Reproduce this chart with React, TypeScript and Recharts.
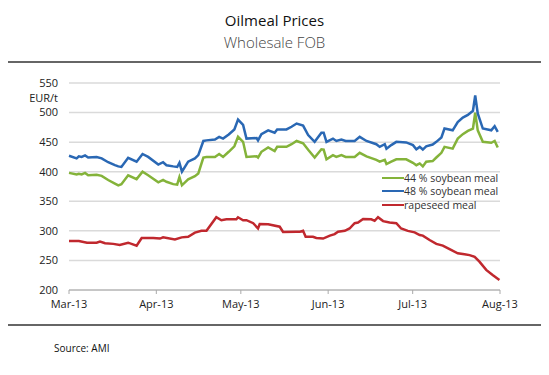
import { LineChart, Line, XAxis, YAxis, CartesianGrid } from 'recharts'

// days counted from 1 March 2013
const monthTicks = [0, 31, 61, 92, 122, 153]
const monthLabels = ['Mar-13', 'Apr-13', 'May-13', 'Jun-13', 'Jul-13', 'Aug-13']
const priceTicks = [200, 250, 300, 350, 400, 450, 500, 550]

const soyDays = [
  0, 2.7, 3.5, 4.5, 5.7, 6.8, 9.8, 11.6, 13.9, 16.3,
  17.5, 18.6, 21, 24, 26.1, 28.1, 31.7, 33.4, 34.6, 37,
  38.4, 39.2, 40.1, 42.3, 44.7, 45.9, 47.7, 48.8, 51.8, 53.3,
  54.7, 56.7, 58.7, 60, 61.8, 63, 66.6, 67.1, 68.3, 70.7,
  73, 73.9, 77.2, 79, 80.8, 83.1, 84.9, 87.2, 89.6, 90.4,
  91.4, 93.7, 94.9, 96.7, 98.2, 101.4, 103.2, 105.6, 109.1, 110.3,
  112.1, 112.7, 114.4, 116.2, 119.7, 122.1, 123.3, 124.5, 125.6, 126.8,
  129.1, 130.4, 132.2, 133.3, 136.2, 138, 139.8, 141.6, 143.4, 144.2,
  145.1, 146.9, 149.9, 151.1, 152.2,
]
const soy48 = [
  427, 422.5, 426, 425, 427.6, 424, 425, 422.5, 416, 411,
  409, 408, 423.6, 417, 430, 425, 412, 416, 411, 409,
  408, 415, 400, 417, 422.5, 428, 452, 453, 454.5, 459,
  456, 463, 471.5, 488, 479, 456, 457, 453, 463.5, 470,
  466, 471.5, 471.5, 476, 481.5, 478, 462, 450.5, 466, 466,
  450.5, 456, 452, 454.5, 452, 452, 459, 452, 446.5, 442,
  446.5, 439, 445, 450.5, 449.5, 445, 438, 442, 437.5, 443,
  446, 450.5, 458, 473, 470, 484, 491.5, 496, 503, 529,
  498.5, 473, 470, 477, 467.5,
]
const soy44 = [
  398, 395.5, 396.5, 395.5, 398, 394, 395, 393, 386, 380,
  377, 379, 394, 387.5, 400, 394, 382, 386, 383, 379,
  378, 391, 377, 387, 392.5, 397, 424, 425, 425, 430,
  425, 433.7, 443, 459, 450.5, 425, 426, 424, 433.7, 441,
  435, 442, 442, 446.5, 452, 448, 437, 424, 438, 437.5,
  421, 428, 425, 428, 425, 425, 432, 426, 420, 417,
  420, 413, 417, 421, 421, 415, 411, 414, 409, 417,
  418, 424, 432, 442, 439, 456, 463.5, 469, 473, 500,
  470, 450.5, 449, 452, 441,
]

const rapeDays = [
  0, 3.5, 6.4, 9.8, 11, 12.8, 15.7, 18, 21, 24,
  25.8, 29.9, 32.3, 33.4, 37.6, 40, 42.3, 44.7, 47, 48.8,
  52.3, 54.1, 55.9, 59.4, 60, 61.8, 63, 65.4, 67.1, 67.7,
  70.7, 74.8, 76, 80.7, 82, 83.1, 84, 86.6, 87.8, 90.2,
  92.6, 94.3, 95.5, 97.9, 99.6, 101.4, 102.6, 104.4, 107.3, 108.5,
  109.7, 111.5, 113.8, 116.2, 117.9, 120.3, 122.7, 124.5, 125.6, 128,
  130.4, 132.7, 135.1, 138, 140.4, 142.2, 144, 145.7, 148.1, 150.5, 152.8,
]
const rapeseed = [
  283, 283, 280, 280, 282, 279, 278, 276, 280, 275,
  288, 288, 287, 289, 285.5, 289, 290, 297, 300, 300,
  323, 318, 319.5, 319.5, 323, 318, 318, 313, 304, 311.5,
  311, 307, 298, 298.5, 298.5, 300, 290, 290, 288, 287,
  292, 294.5, 298.5, 300, 304, 313, 314, 320, 319.5, 317,
  323, 316.5, 314, 313, 304, 300, 297.5, 293, 292, 284.5,
  278, 275, 269, 262, 260.5, 259, 256, 248, 234, 225, 217,
]

const series = [
  { name: '44 % soybean meal', color: '#84b33a' },
  { name: '48 % soybean meal', color: '#2a68b4' },
  { name: 'rapeseed meal', color: '#c0282e' },
]

const soyData = soyDays.map((day, i) => ({ day, s44: soy44[i], s48: soy48[i] }))
const rapeData = rapeDays.map((day, i) => ({ day, rape: rapeseed[i] }))

const font = '"Open Sans", sans-serif'

function LegendBox() {
  return (
    <div style={{ position: 'absolute', left: 382, top: 171, fontFamily: font, fontSize: 10.5, color: '#333' }}>
      {series.map((s) => (
        <div key={s.name} style={{ display: 'flex', alignItems: 'center', height: 13.5, whiteSpace: 'nowrap' }}>
          <span style={{ display: 'inline-block', width: 22, height: 2, background: s.color }} />
          <span>{s.name}</span>
        </div>
      ))}
    </div>
  )
}

export default function App() {
  return (
    <div style={{ position: 'relative', width: 549, height: 375, margin: -8, background: '#fff', fontFamily: font }}>
      <div style={{ position: 'absolute', top: 10, width: 549, textAlign: 'center', fontSize: 15, color: '#111' }}>
        Oilmeal Prices
      </div>
      <div style={{ position: 'absolute', top: 32, width: 549, textAlign: 'center', fontSize: 15, color: '#444', fontWeight: 300 }}>
        Wholesale FOB
      </div>
      <div style={{ position: 'absolute', top: 61, left: 1, width: 548, height: 2, background: '#666' }} />
      <div style={{ position: 'absolute', top: 0, left: 0 }}>
        <LineChart width={549} height={375} margin={{ top: 83, right: 49, bottom: 55, left: 29 }}>
          <CartesianGrid horizontal vertical={false} stroke="#dadada" strokeWidth={1.5} />
          <XAxis
            type="number"
            dataKey="day"
            domain={[0, 153]}
            ticks={monthTicks}
            tickFormatter={(v: number) => monthLabels[monthTicks.indexOf(v)]}
            height={30}
            tickSize={4}
            tickMargin={6}
            stroke="#aaa"
            tick={{ fill: '#222', fontSize: 11, fontFamily: font }}
            allowDuplicatedCategory={false}
          />
          <YAxis
            domain={[200, 550]}
            ticks={priceTicks}
            width={40}
            axisLine={false}
            tickLine={false}
            tickMargin={5}
            tick={{ fill: '#222', fontSize: 11, fontFamily: font }}
          />
          <Line data={soyData} dataKey="s44" name={series[0].name} stroke={series[0].color} strokeWidth={2.5} dot={false} isAnimationActive={false} />
          <Line data={soyData} dataKey="s48" name={series[1].name} stroke={series[1].color} strokeWidth={2.5} dot={false} isAnimationActive={false} />
          <Line data={rapeData} dataKey="rape" name={series[2].name} stroke={series[2].color} strokeWidth={2.5} dot={false} isAnimationActive={false} />
        </LineChart>
      </div>
      <div style={{ position: 'absolute', top: 90, left: 20, width: 38, textAlign: 'right', fontSize: 11, color: '#222' }}>
        EUR/t
      </div>
      <LegendBox />
      <div style={{ position: 'absolute', top: 324, left: 1, width: 548, height: 2, background: '#666' }} />
      <div style={{ position: 'absolute', top: 341, left: 54, fontSize: 10, color: '#111' }}>Source: AMI</div>
    </div>
  )
}
